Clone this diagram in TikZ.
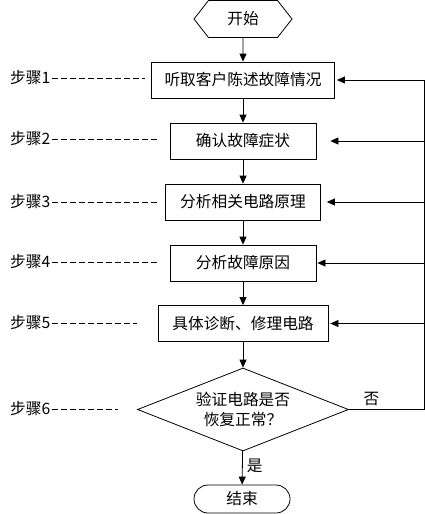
\documentclass[tikz,border=0pt]{standalone}
\usepackage{fontspec}
\setmainfont{Noto Sans CJK SC}
\usetikzlibrary{arrows.meta,calc,positioning,shapes.geometric,shapes.symbols}
\definecolor{FlowInk}{HTML}{000000}
\definecolor{FlowPaper}{HTML}{FFFFFF}
\tikzset{
  every node/.style={font=\fontsize{15.7}{20}\selectfont, text=FlowInk},
  startcap/.style={draw=FlowInk, line width=0.8pt, signal, signal to=west and east, signal pointer angle=104, minimum width=98pt, minimum height=37pt, inner sep=0pt},
  stepbox/.style={draw=FlowInk, line width=0.8pt, fill=FlowPaper, minimum height=36pt, inner sep=0pt},
  decision/.style={draw=FlowInk, line width=0.8pt, diamond, aspect=2.5, minimum width=211pt, minimum height=83pt, inner sep=0pt, align=center},
  terminal/.style={draw=FlowInk, line width=0.8pt, rounded corners=14pt, minimum width=96pt, minimum height=28pt, inner sep=0pt},
  steplabel/.style={anchor=west, inner sep=1pt},
  flow/.style={-{Triangle[length=8pt,width=7pt]}, draw=FlowInk, line width=0.8pt},
  feedback/.style={draw=FlowInk, line width=0.8pt},
  leader/.style={draw=FlowInk, line width=0.8pt, dash pattern=on 6pt off 3pt},
}

\begin{document}
\begin{tikzpicture}[x=1pt,y=-1pt]
  \useasboundingbox (0,0) rectangle (425,514);
  % Start and end
  \node[startcap] (start) at (243,19) {开始};
  \node[terminal] (end) at (242,499) {结束};
  % Working steps, top to bottom
  \foreach \name/\y/\w/\txt in {b1/80/183/听取客户陈述故障情况,
                                b2/141/146/确认故障症状,
                                b3/202/155/分析相关电路原理,
                                b4/263/146/分析故障原因,
                                b5/323.5/170/具体诊断、修理电路} {
    \node[stepbox, minimum width=\w pt] (\name) at (243,\y) {\txt};
  }
  % Check
  \node[decision] (check) at (243,409.5) {验证电路是否\\恢复正常？};
  % Main flow
  \draw[flow] (start) -- (b1);
  \draw[flow] (b1) -- (b2);
  \draw[flow] (b2) -- (b3);
  \draw[flow] (b3) -- (b4);
  \draw[flow] (b4) -- (b5);
  \draw[flow] (b5) -- (check);
  \draw[flow] (check) -- node[right, pos=0.45, inner sep=4pt] {是} (end);
  % Return path on the right
  \coordinate (loop) at (424,409.5);
  \draw[feedback] (check.east) -- node[above, pos=0.3] {否} (loop) -- (loop|-b1);
  \foreach \name/\gap in {b1/2,b2/14,b3/6,b4/1,b5/2} {
    \draw[flow] (loop|-\name.east) -- ([xshift=\gap pt]\name.east);
  }
  % Step labels with leaders
  \foreach \n/\y/\xend in {1/78/145,2/139/157,3/202/157,4/262/157,5/323/137,6/409/118} {
    \node[steplabel] (s\n) at (9,\y) {步骤\n};
    \coordinate (e\n) at (\xend,\y);
    \draw[leader] (s\n.east) -- (e\n);
  }
\end{tikzpicture}
\end{document}
